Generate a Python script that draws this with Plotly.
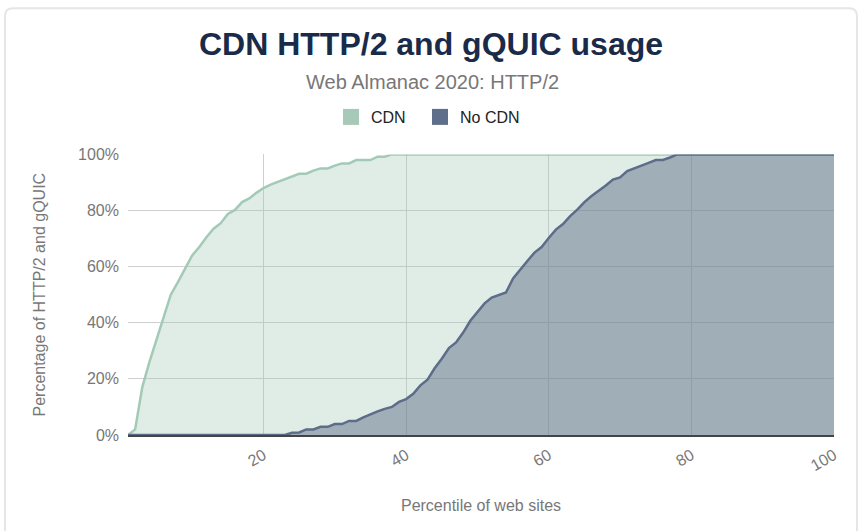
import plotly.graph_objects as go

percentiles = list(range(1, 101))

cdn = [0, 2, 17, 26, 34, 42, 50, 54.5, 59, 64,
       67, 70.5, 73.5, 75.5, 78.8, 80.2, 83, 84.3, 86.3, 88,
       89.2, 90.2, 91.2, 92.3, 93.1, 93.1, 94.2, 95, 95, 96,
       96.8, 96.8, 98, 98, 98, 99.2, 99.2, 100] + [100] * 62

no_cdn = [0] * 23 + [0.8, 0.9, 2, 2, 2.9, 2.9, 3.9, 3.9, 5,
          5, 6.3, 7.4, 8.4, 9.3, 10, 11.8, 12.8, 14.7, 17.7,
          19.7, 23.8, 27.2, 31, 33, 36.5, 40.7, 43.7, 46.9, 49,
          50, 50.8, 55.8, 58.7, 62, 65, 67, 70.2, 73.2, 75.2,
          78, 80.3, 83, 85.2, 87, 88.9, 91, 91.8, 94.1, 95,
          96, 97, 98, 98, 98.9] + [100] * 23

series_names = ["CDN", "No CDN"]
x_ticks = [20, 40, 60, 80, 100]
y_ticks = [0, 20, 40, 60, 80, 100]
y_tick_labels = ["0%", "20%", "40%", "60%", "80%", "100%"]

W, H = 860, 531
L, R, T, B = 128, 834, 153, 435


def px(x):
    return (x - L) / (R - L)


def py(y):
    return (B - y) / (B - T)


line_colors = ["#a3cab6", "#5d6c88"]
fill_colors = ["rgba(165,201,184,0.34)", "rgba(95,111,138,0.5)"]
legend_colors = ["#a6c9b8", "#5f6f8b"]
legend_ids = ["legend", "legend2"]
legend_left = [331, 420]

fig = go.Figure()
for name, vals, lc, fc in zip(series_names, [cdn, no_cdn], line_colors, fill_colors):
    fig.add_trace(go.Scatter(
        x=percentiles, y=vals, name=name, mode="lines",
        line=dict(color=lc, width=2.5),
        fill="tozeroy", fillcolor=fc, showlegend=False,
    ))
for name, c, lg in zip(series_names, legend_colors, legend_ids):
    fig.add_trace(go.Scatter(
        x=[None], y=[None], name=name, mode="markers", legend=lg,
        marker=dict(symbol="square", size=16, color=c),
    ))

r = 8
x0b, x1b, y0b, y1b = 5, 857, 6, 560
border_path = (
    f"M {px(x0b)},{py(y1b)} L {px(x0b)},{py(y0b + r)} "
    f"Q {px(x0b)},{py(y0b)} {px(x0b + r)},{py(y0b)} "
    f"L {px(x1b - r)},{py(y0b)} "
    f"Q {px(x1b)},{py(y0b)} {px(x1b)},{py(y0b + r)} "
    f"L {px(x1b)},{py(y1b)}"
)


def legend_cfg(left):
    return dict(orientation="h", xref="container", yref="container",
                x=left / W, xanchor="left", y=1 - 117 / H, yanchor="middle",
                font=dict(size=16, color="#222"), itemsizing="trace",
                bgcolor="rgba(0,0,0,0)")


fig.update_layout(
    width=W, height=H,
    margin=dict(l=L, r=W - R, t=T, b=H - B),
    paper_bgcolor="white", plot_bgcolor="white",
    font=dict(family="Liberation Sans, Arial, sans-serif", color="#666"),
    title=dict(text="<b>CDN HTTP/2 and gQUIC usage</b>",
               x=431 / W, xanchor="center", xref="container",
               y=1 - 44 / H, yanchor="middle", yref="container",
               font=dict(family="Liberation Sans, Arial, sans-serif", size=32,
                         color="#1a2b4a")),
    showlegend=True,
    legend=legend_cfg(legend_left[0]),
    legend2=legend_cfg(legend_left[1]),
    xaxis=dict(range=[1, 100], tickvals=x_ticks, tickangle=-30,
               showgrid=True, gridcolor="#cfcfcf", gridwidth=1.2,
               showline=True, linecolor="#444", linewidth=2,
               zeroline=False, ticks="", ticklabelstandoff=3,
               tickfont=dict(size=16, color="#777"),
               title=dict(text="Percentile of web sites", standoff=27,
                          font=dict(size=16, color="#777"))),
    yaxis=dict(range=[0, 100], tickvals=y_ticks, ticktext=y_tick_labels,
               showgrid=True, gridcolor="#cfcfcf", gridwidth=1.2,
               zeroline=False, ticks="", ticklabelstandoff=8,
               tickfont=dict(size=16, color="#777"),
               title=dict(text="Percentage of HTTP/2 and gQUIC", standoff=28,
                          font=dict(size=16, color="#777"))),
    annotations=[dict(text="Web Almanac 2020: HTTP/2", xref="paper", yref="paper",
                      x=px(432), xanchor="center", y=py(80),
                      yanchor="middle",
                      showarrow=False, font=dict(size=20, color="#777"))],
    shapes=[dict(type="path", xref="paper", yref="paper", path=border_path,
                 line=dict(color="#e6e6e6", width=2), layer="below")],
)

fig.write_html("out.html", config={"displayModeBar": False},
               post_script="document.body.style.margin='0';")
